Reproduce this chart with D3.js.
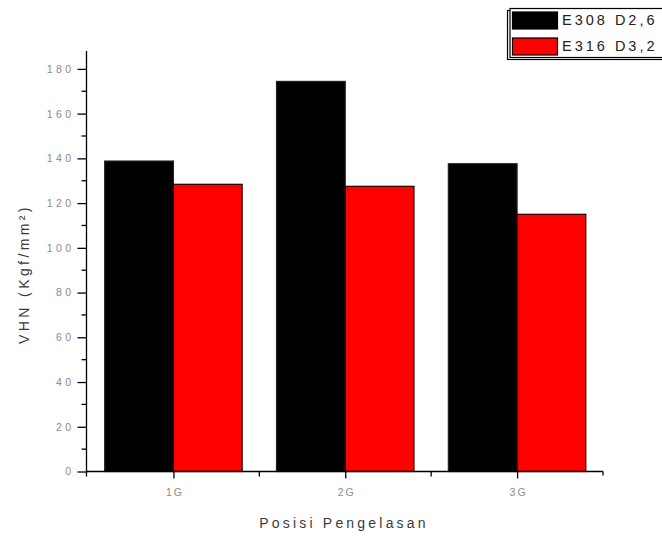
<!DOCTYPE html>
<html>
<head>
<meta charset="utf-8">
<script src="https://cdn.jsdelivr.net/npm/d3@7"></script>
<style>
  html, body { margin: 0; padding: 0; background: #fff; }
  svg { display: block; }
  text { font-family: "Liberation Sans", Arial, sans-serif; }
</style>
</head>
<body>
<svg id="chart" width="662" height="536"></svg>
<script>
// Welding positions and hardness values (VHN, Kgf/mm²)
const categories = ["1G", "2G", "3G"];
const seriesNames = ["E308 D2,6", "E316 D3,2"];
const seriesColors = ["#000000", "#ff0000"];
const e308Values = [138.8, 174.4, 137.6];
const e316Values = [128.4, 127.5, 115.0];
const yMajorTicks = [0, 20, 40, 60, 80, 100, 120, 140, 160, 180];
const yMinorTicks = [10, 30, 50, 70, 90, 110, 130, 150, 170];
const xMinorTicks = [1.5, 2.5];

const series = [e308Values, e316Values];

const svg = d3.select("#chart");

const x = d3.scaleLinear().domain([0.5, 3.5]).range([87.5, 603]);
const y = d3.scaleLinear().domain([0, 188]).range([471.5, 51]);
const axisX = 86.5;
const barWidth = 0.4; // in category units

// Bars: first series left of the category centre, second series right of it
series.forEach((vals, s) => {
  svg.append("g")
    .selectAll("rect")
    .data(vals)
    .join("rect")
    .attr("x", (d, i) => x(i + 1 + (s === 0 ? -barWidth : 0)))
    .attr("y", d => y(d))
    .attr("width", x(1 + barWidth) - x(1))
    .attr("height", d => y(0) - y(d))
    .attr("fill", seriesColors[s])
    .attr("stroke", s === 0 ? "#222" : "#200")
    .attr("stroke-width", 1.2);
});

// Y axis
const yAxis = svg.append("g").attr("transform", `translate(${axisX},0)`);
yAxis.call(d3.axisLeft(y).tickValues(yMajorTicks).tickSize(9).tickPadding(6).tickFormat(d3.format("d")));
yAxis.select(".domain").remove();
yAxis.selectAll(".tick line").attr("stroke", "#000").attr("stroke-width", 1.3);
yAxis.selectAll(".tick text")
  .attr("fill", "#8a8a8a")
  .attr("font-size", 10.5)
  .attr("letter-spacing", "3.4px")
  .attr("dx", "3px")
  .attr("font-family", "'Liberation Sans', Arial, sans-serif");
yAxis.selectAll(".minor")
  .data(yMinorTicks)
  .join("line")
  .attr("class", "minor")
  .attr("x1", -5).attr("x2", 0)
  .attr("y1", d => y(d)).attr("y2", d => y(d))
  .attr("stroke", "#000").attr("stroke-width", 1.3);
yAxis.append("line")
  .attr("x1", 0).attr("x2", 0)
  .attr("y1", y(188)).attr("y2", y(0) + 5)
  .attr("stroke", "#000").attr("stroke-width", 1.3);

// X axis
const xAxis = svg.append("g").attr("transform", `translate(0,${y(0)})`);
xAxis.call(d3.axisBottom(x).tickValues([1, 2, 3]).tickSize(7).tickPadding(10)
  .tickFormat(d => categories[d - 1]));
xAxis.select(".domain").remove();
xAxis.selectAll(".tick line").attr("stroke", "#000").attr("stroke-width", 1.3);
xAxis.selectAll(".tick text")
  .attr("fill", "#8a8a8a")
  .attr("font-size", 10.5)
  .attr("letter-spacing", "2px")
  .attr("dx", "1px")
  .attr("font-family", "'Liberation Sans', Arial, sans-serif");
xAxis.selectAll(".minor")
  .data(xMinorTicks)
  .join("line")
  .attr("class", "minor")
  .attr("x1", d => x(d)).attr("x2", d => x(d))
  .attr("y1", 0).attr("y2", 5)
  .attr("stroke", "#000").attr("stroke-width", 1.3);
xAxis.append("line")
  .attr("x1", axisX).attr("x2", x(3.5))
  .attr("y1", 0).attr("y2", 0)
  .attr("stroke", "#000").attr("stroke-width", 1.3);
xAxis.append("line")
  .attr("x1", x(3.5)).attr("x2", x(3.5))
  .attr("y1", 0).attr("y2", 4)
  .attr("stroke", "#000").attr("stroke-width", 1.3);

// Axis titles
svg.append("text")
  .attr("x", 344).attr("y", 528)
  .attr("text-anchor", "middle")
  .attr("font-size", 14)
  .attr("letter-spacing", "3.2px")
  .attr("fill", "#3a3a3a")
  .text("Posisi Pengelasan");

svg.append("text")
  .attr("transform", "translate(29,274) rotate(-90)")
  .attr("text-anchor", "middle")
  .attr("font-size", 14)
  .attr("letter-spacing", "3.4px")
  .attr("fill", "#3a3a3a")
  .text("VHN (Kgf/mm²)");

// Legend with offset shadow frame
const legend = svg.append("g");
legend.append("rect")
  .attr("x", 507.5).attr("y", 10.5).attr("width", 200).attr("height", 49)
  .attr("fill", "#fff").attr("stroke", "#000").attr("stroke-width", 1.2);
legend.append("rect")
  .attr("x", 510).attr("y", 8.5).attr("width", 200).attr("height", 49)
  .attr("fill", "#fff").attr("stroke", "#000").attr("stroke-width", 1.2);
seriesNames.forEach((name, s) => {
  const top = 12 + s * 26;
  legend.append("rect")
    .attr("x", 512.5).attr("y", top).attr("width", 45).attr("height", 17)
    .attr("fill", seriesColors[s])
    .attr("stroke", "#000").attr("stroke-width", 1.2);
  legend.append("text")
    .attr("x", 562).attr("y", top + 13)
    .attr("font-size", 14.5)
    .attr("letter-spacing", "3px")
    .attr("fill", "#222")
    .text(name);
});
</script>
</body>
</html>
